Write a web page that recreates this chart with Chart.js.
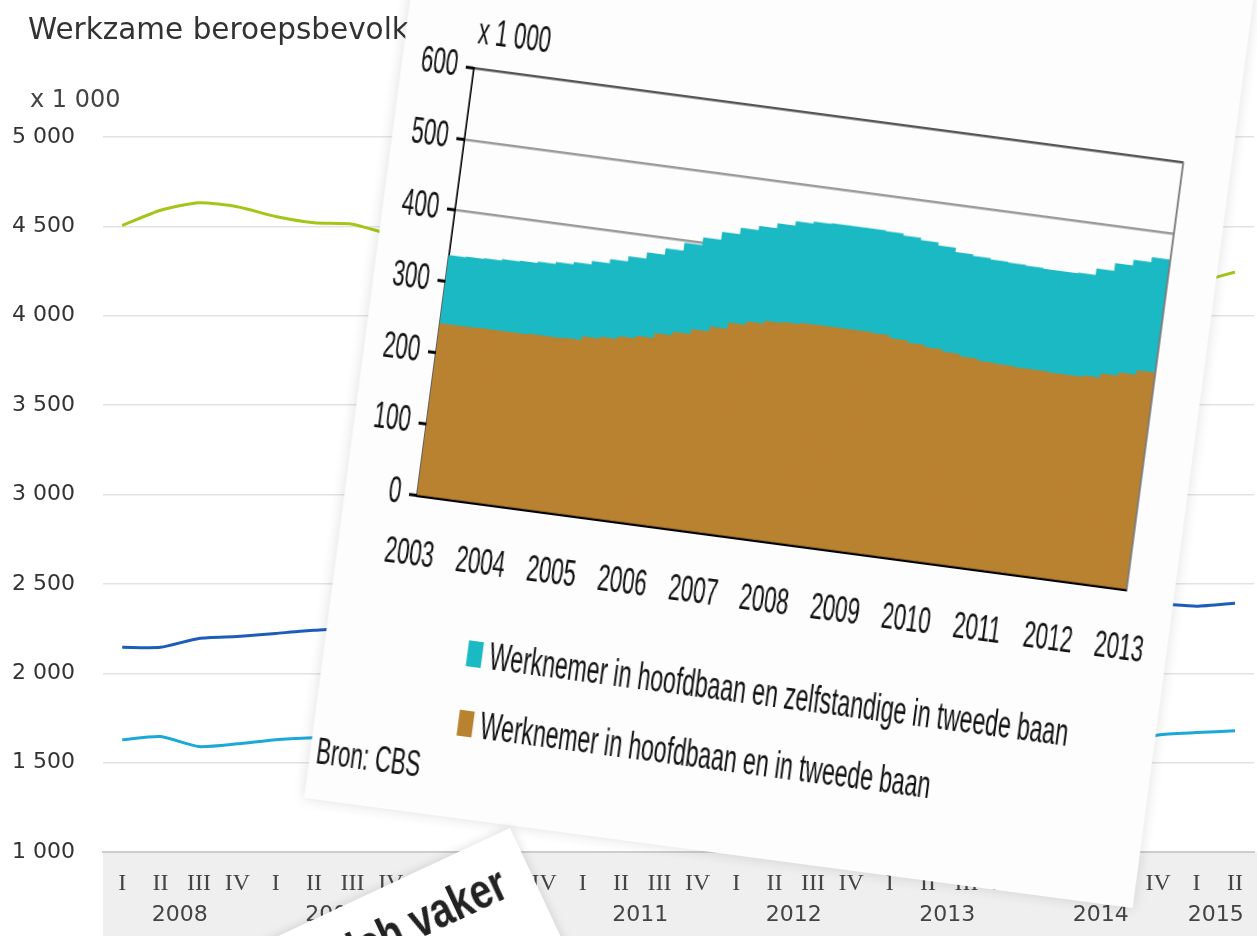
<!DOCTYPE html>
<html lang="nl">
<head>
<meta charset="UTF-8">
<title>Werkzame beroepsbevolking en tweede banen</title>
<script src="https://cdn.jsdelivr.net/npm/chart.js"></script>
<style>
  html, body { margin: 0; padding: 0; }
  body {
    width: 1257px; height: 936px; overflow: hidden; position: relative;
    background: #fff; font-family: 'DejaVu Sans', sans-serif;
  }
  #bgChart { position: absolute; left: 0; top: 0; }
  .bg-title { position: absolute; left: 28px; top: 15px; font-size: 29.5px; line-height: 1; color: #333; white-space: nowrap; }
  .bg-unit { position: absolute; left: 30px; top: 87px; font-size: 24px; line-height: 1; color: #444; }

  /* het gekantelde plaatje met de tweede banen */
  #card {
    position: absolute; left: 426px; top: -119px; width: 1393px; height: 925px;
    background: #fdfdfd; transform-origin: 0 0; transform: rotate(7.57deg) scaleX(0.6);
    box-shadow: 0 0 16px rgba(0,0,0,0.13);
    font-family: 'Liberation Sans', Arial, sans-serif; color: #111;
  }
  .inner { position: absolute; left: 0; top: 90px; width: 1393px; height: 835px; }
  #cardChart { position: absolute; left: 0; top: 0; }
  .card-unit { position: absolute; left: 120px; top: 33px; font-size: 37px; line-height: 1; white-space: nowrap; }
  #cardLegend { position: absolute; left: 238px; top: 657px; }
  .legend-item { display: flex; align-items: center; height: 26px; margin-bottom: 44px; font-size: 38.5px; line-height: 1; white-space: nowrap; }
  .swatch { width: 25px; height: 26px; margin-right: 12px; flex: none; }
  .bron { position: absolute; left: 10px; top: 768px; font-size: 37px; line-height: 1; white-space: nowrap; }

  /* kop van het artikel onderaan */
  #note {
    position: absolute; left: -390px; top: 828px; width: 900px; height: 400px;
    background: #fff; transform-origin: 100% 0; transform: rotate(-25deg);
    box-shadow: 0 0 10px rgba(0,0,0,0.15);
  }
  #note span {
    position: absolute; right: 28px; top: 16px; white-space: nowrap;
    font: bold 50px 'Liberation Sans', Arial, sans-serif; color: #222;
    transform-origin: 100% 50%; transform: scaleX(0.78);
  }
</style>
</head>
<body>
  <canvas id="bgChart" width="1260" height="936"></canvas>
  <div class="bg-title">Werkzame beroepsbevolking</div>
  <div class="bg-unit">x 1 000</div>

  <div id="card">
    <div class="inner">
      <canvas id="cardChart" width="1393" height="620"></canvas>
      <div class="card-unit">x 1 000</div>
      <div id="cardLegend"></div>
      <div class="bron">Bron: CBS</div>
    </div>
  </div>

  <div id="note"><span>zich vaker</span></div>

<script>
// achtergrond: werkzame beroepsbevolking per kwartaal, 2008 I t/m 2015 II (x 1 000)
const bgYears = [2008, 2009, 2010, 2011, 2012, 2013, 2014, 2015];
const bgQuarters = ['I', 'II', 'III', 'IV'];
const bgCount = 30;
const bgGreen = [4505, 4590, 4632, 4610, 4555, 4520, 4512, 4455, 4430, 4420, 4405, 4395, 4380, 4370, 4355,
                 4340, 4320, 4305, 4290, 4270, 4255, 4240, 4230, 4215, 4205, 4200, 4195, 4190, 4188, 4245];
const bgDarkBlue = [2145, 2145, 2195, 2206, 2223, 2240, 2250, 2258, 2265, 2270, 2280, 2290, 2300, 2310, 2320,
                    2330, 2335, 2345, 2350, 2355, 2360, 2365, 2370, 2375, 2380, 2385, 2390, 2388, 2375, 2392];
const bgLightBlue = [1628, 1646, 1590, 1605, 1628, 1639, 1645, 1650, 1640, 1635, 1640, 1645, 1650, 1640, 1630,
                     1625, 1620, 1615, 1610, 1605, 1600, 1605, 1600, 1595, 1590, 1595, 1600, 1655, 1668, 1678];
const bgTicks = [1000, 1500, 2000, 2500, 3000, 3500, 4000, 4500, 5000];

// ingezoomd plaatje: werknemers met een tweede baan, per kwartaal 2003-2012 (x 1 000)
const cardYears = [2003, 2004, 2005, 2006, 2007, 2008, 2009, 2010, 2011, 2012];
const cardLabels = ['Werknemer in hoofdbaan en in tweede baan', 'Werknemer in hoofdbaan en zelfstandige in tweede baan'];
const brownVals = [240, 240, 241, 241,  241, 242, 242, 243,  248, 251, 255, 259,  266, 271, 278, 285,
                   294, 299, 303, 305,  307, 307, 307, 307,  306, 302, 299, 296,  293, 290, 287, 286,
                   285, 285, 284, 284,  286, 292, 297, 303];
const tealVals = [96, 97, 97, 99,  100, 101, 104, 106,  106, 109, 112, 117,  119, 125, 129, 133,
                  133, 134, 137, 141,  142, 143, 143, 143,  143, 144, 144, 143,  140, 141, 142, 142,
                  142, 141, 142, 143,  150, 155, 158, 159];

const bgLabels = [], bgLabelYears = [];
for (let i = 0; i < bgCount; i++) {
  bgLabels.push(bgQuarters[i % 4]);
  bgLabelYears.push(bgYears[Math.floor(i / 4)]);
}
const spaced = v => String(v).replace(/\B(?=(\d{3})+(?!\d))/g, ' ');

const bandPlugin = {
  id: 'band',
  beforeDraw(chart) {
    const { ctx, chartArea } = chart;
    ctx.save();
    ctx.fillStyle = '#efefef';
    ctx.fillRect(chartArea.left, chartArea.bottom, chart.width - chartArea.left, chart.height - chartArea.bottom);
    ctx.restore();
  },
  afterDraw(chart) {
    const { ctx } = chart;
    const x = chart.scales.x;
    ctx.save();
    ctx.font = '22px "DejaVu Sans"';
    ctx.fillStyle = '#444';
    ctx.textAlign = 'center';
    ctx.textBaseline = 'middle';
    bgYears.forEach(year => {
      const first = bgLabelYears.indexOf(year);
      const last = bgLabelYears.lastIndexOf(year);
      const px = (x.getPixelForValue(first) + x.getPixelForValue(last)) / 2;
      ctx.fillText(String(year), px, 915);
    });
    ctx.restore();
  }
};

new Chart(document.getElementById('bgChart'), {
  type: 'line',
  data: {
    labels: bgLabels,
    datasets: [
      { data: bgGreen, borderColor: '#a3c619', borderWidth: 3 },
      { data: bgDarkBlue, borderColor: '#1c5dba', borderWidth: 3 },
      { data: bgLightBlue, borderColor: '#1ca8d9', borderWidth: 3 }
    ]
  },
  options: {
    responsive: false,
    animation: false,
    layout: { padding: { top: 137, right: 1, left: 0, bottom: 0 } },
    elements: { point: { radius: 0 }, line: { tension: 0.2 } },
    plugins: { legend: { display: false }, tooltip: { enabled: false } },
    scales: {
      x: {
        offset: true,
        grid: { display: false, drawTicks: false },
        border: { color: '#cdcdcd', width: 2 },
        ticks: { autoSkip: false, maxRotation: 0, padding: 17, color: '#444', font: { family: 'Liberation Serif', size: 24 } },
        afterFit(s) { s.height = 84; }
      },
      y: {
        min: 1000, max: 5000,
        afterBuildTicks(s) { s.ticks = bgTicks.map(v => ({ value: v })); },
        grid: { color: '#e3e3e3', lineWidth: 1.5, drawTicks: false },
        border: { display: false },
        ticks: { padding: 28, color: '#333', font: { family: 'DejaVu Sans', size: 22 }, callback: v => spaced(v) },
        afterFit(s) { s.width = 103; }
      }
    }
  },
  plugins: [bandPlugin]
});

// kwartalen als posities op de jaaras
const cardX = [];
cardYears.forEach(y => { for (let q = 0; q < 4; q++) cardX.push(y + (q + 0.5) / 4); });

const frameRight = {
  id: 'frameRight',
  afterDatasetsDraw(chart) {
    const { ctx, chartArea } = chart;
    ctx.save();
    ctx.strokeStyle = '#7a7a7a';
    ctx.lineWidth = 3;
    ctx.beginPath();
    ctx.moveTo(chartArea.right, chartArea.top);
    ctx.lineTo(chartArea.right, chartArea.bottom);
    ctx.stroke();
    ctx.restore();
  }
};

const cardFont = { family: 'Liberation Sans', size: 37 };
const cardChart = new Chart(document.getElementById('cardChart'), {
  type: 'bar',
  data: {
    datasets: [
      { label: cardLabels[0], data: brownVals.map((v, i) => ({ x: cardX[i], y: v })), backgroundColor: '#b98230' },
      { label: cardLabels[1], data: tealVals.map((v, i) => ({ x: cardX[i], y: v })), backgroundColor: '#1bb9c3' }
    ]
  },
  options: {
    responsive: false,
    animation: false,
    layout: { padding: { top: 89, right: 80, left: 0, bottom: 0 } },
    datasets: { bar: { barPercentage: 1, categoryPercentage: 1, borderWidth: 0, inflateAmount: 1 } },
    plugins: { legend: { display: false }, tooltip: { enabled: false } },
    scales: {
      x: {
        type: 'linear', min: 2003, max: 2013, offset: false, stacked: true,
        grid: { display: false, drawTicks: false, offset: false },
        border: { color: '#000', width: 3 },
        ticks: { stepSize: 1, autoSkip: false, maxRotation: 0, padding: 38, color: '#111', font: cardFont, callback: v => String(v) },
        afterFit(s) { s.height = 100; }
      },
      y: {
        stacked: true, min: 0, max: 600,
        grid: {
          color: c => (c.tick && c.tick.value === 600 ? '#555' : '#9a9a9a'),
          lineWidth: 2.5, tickColor: '#000', tickLength: 13, tickWidth: 3
        },
        border: { color: '#000', width: 3 },
        ticks: { stepSize: 100, padding: 14, color: '#111', font: cardFont },
        afterFit(s) { s.width = 120; }
      }
    }
  },
  plugins: [frameRight]
});

// legenda als tekst, bovenste regel is de bovenste laag
const legendBox = document.getElementById('cardLegend');
cardChart.data.datasets.slice().reverse().forEach(ds => {
  const item = document.createElement('div');
  item.className = 'legend-item';
  const sw = document.createElement('span');
  sw.className = 'swatch';
  sw.style.background = ds.backgroundColor;
  const txt = document.createElement('span');
  txt.textContent = ds.label;
  item.append(sw, txt);
  legendBox.append(item);
});
</script>
</body>
</html>
